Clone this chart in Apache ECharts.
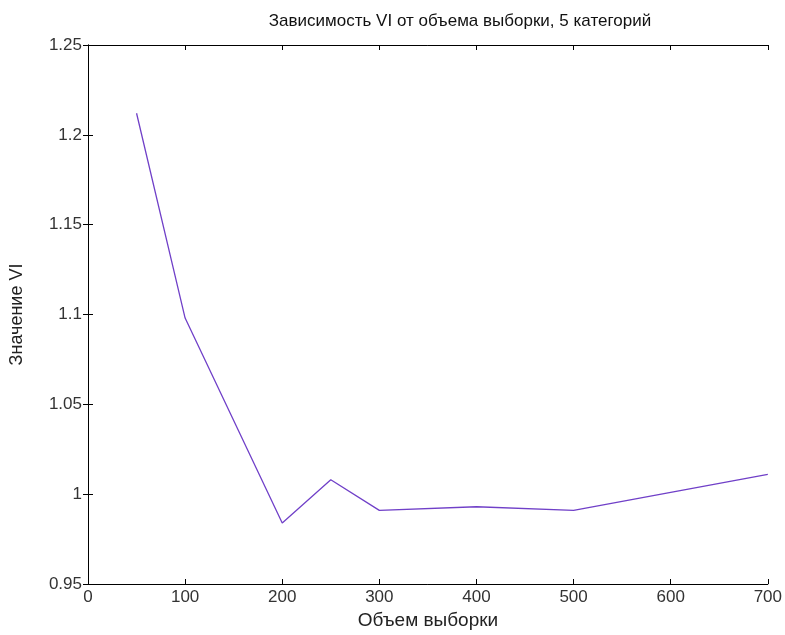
<!DOCTYPE html>
<html><head><meta charset="utf-8">
<script src="https://cdn.jsdelivr.net/npm/echarts@6/dist/echarts.min.js"></script>
<style>html,body{margin:0;padding:0;background:#fff}#c{width:785px;height:635px}</style>
</head><body><div id="c"></div>
<script>
const sampleSizes = [50, 100, 200, 250, 300, 400, 500, 600, 700];
const viValues = [1.212, 1.098, 0.984, 1.008, 0.991, 0.993, 0.991, 1.001, 1.011];
const xTicks = [0, 100, 200, 300, 400, 500, 600, 700];
const yTicks = ['0.95', '1', '1.05', '1.1', '1.15', '1.2', '1.25'];
const titleText = 'Зависимость VI от объема выборки, 5 категорий';
const xName = 'Объем выборки';
const yName = 'Значение VI';

const FONT = "'Liberation Sans Narrow', 'Liberation Sans', Arial, sans-serif";
const chart = echarts.init(document.getElementById('c'));
const axisLine = {show: true, lineStyle: {color: '#000', width: 1}};
const tick = {show: true, inside: true, length: 5, lineStyle: {color: '#000'}};
chart.setOption({
  animation: false,
  backgroundColor: '#fff',
  title: {text: titleText, left: 455, top: 8, textAlign: 'center',
    textStyle: {fontFamily: FONT, fontSize: 17, fontWeight: 'normal', color: '#111'}},
  grid: {left: 88, right: 17, top: 45, bottom: 50, containLabel: false},
  xAxis: [
    {type: 'value', min: xTicks[0], max: xTicks[xTicks.length - 1], interval: 100,
     name: xName, nameLocation: 'middle', nameGap: 27,
     nameTextStyle: {fontFamily: FONT, fontSize: 19, color: '#222'},
     axisLine, axisTick: tick, splitLine: {show: false},
     axisLabel: {fontFamily: FONT, fontSize: 17, color: '#333', margin: 5}},
    {type: 'value', position: 'top', min: xTicks[0], max: xTicks[xTicks.length - 1], interval: 100,
     axisLine, axisTick: tick, splitLine: {show: false}, axisLabel: {show: false}}
  ],
  yAxis: [
    {type: 'value', min: 0.95, max: 1.25, interval: 0.05,
     name: yName, nameLocation: 'middle', nameGap: 62, nameRotate: 90,
     nameTextStyle: {fontFamily: FONT, fontSize: 18, color: '#222'},
     axisLine, axisTick: tick, splitLine: {show: false},
     axisLabel: {fontFamily: FONT, fontSize: 17, color: '#333', margin: 6,
       formatter: v => yTicks[Math.round((v - 0.95) / 0.05)]}},
    {type: 'value', position: 'right', min: 0.95, max: 1.25, interval: 0.05,
     axisLine, axisTick: tick, splitLine: {show: false}, axisLabel: {show: false}}
  ],
  series: [{
    type: 'line', data: sampleSizes.map((x, i) => [x, viValues[i]]),
    showSymbol: false, symbol: 'none',
    lineStyle: {color: '#7040c8', width: 1.3}
  }]
});
</script></body></html>
